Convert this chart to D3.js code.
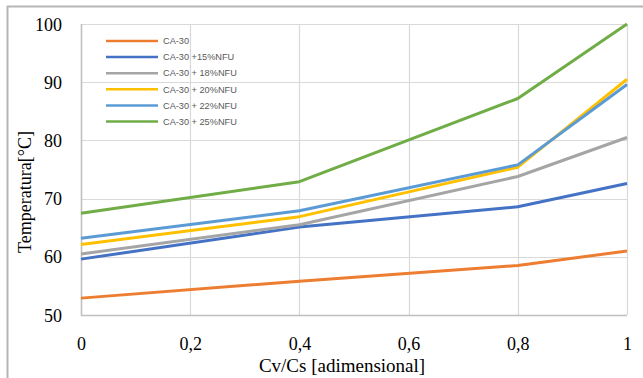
<!DOCTYPE html>
<html>
<head>
<meta charset="utf-8">
<script src="https://cdn.jsdelivr.net/npm/d3@7"></script>
<style>
  html, body { margin: 0; padding: 0; background: #fff; }
  svg { display: block; }
</style>
</head>
<body>
<svg id="chart" width="643" height="378"></svg>
<script>
// Cv/Cs ratio sampled along x
const ratios = [0, 0.4, 0.8, 1];

// Temperature (°C) for each mixture
const seriesNames = ["CA-30", "CA-30 +15%NFU", "CA-30 + 18%NFU", "CA-30 + 20%NFU", "CA-30 + 22%NFU", "CA-30 + 25%NFU"];
const tempCA30 = [52.9, 55.8, 58.5, 61.0];
const temp15 = [59.6, 65.1, 68.6, 72.6];
const temp18 = [60.5, 65.5, 73.8, 80.5];
const temp20 = [62.1, 66.9, 75.4, 90.5];
const temp22 = [63.2, 67.9, 75.8, 89.6];
const temp25 = [67.5, 72.9, 87.2, 100];
const seriesColors = ["#ED7D31", "#4472C4", "#A5A5A5", "#FFC000", "#5B9BD5", "#70AD47"];

const xTicks = [0, 0.2, 0.4, 0.6, 0.8, 1];
const xTickLabels = ["0", "0,2", "0,4", "0,6", "0,8", "1"];
const yTicks = [50, 60, 70, 80, 90, 100];

const allSeries = [tempCA30, temp15, temp18, temp20, temp22, temp25];

const svg = d3.select("#chart");
const W = 643, H = 378;
const plot = { left: 81, right: 627, top: 24, bottom: 315 };
const serif = "Liberation Serif, Times New Roman, serif";

// outer frame (top and left edges)
svg.append("line").attr("x1", 7).attr("x2", W).attr("y1", 6.5).attr("y2", 6.5)
  .attr("stroke", "#b5b5b5").attr("stroke-width", 2);
svg.append("line").attr("x1", 7.5).attr("x2", 7.5).attr("y1", 6).attr("y2", H)
  .attr("stroke", "#b5b5b5").attr("stroke-width", 2);

const x = d3.scaleLinear().domain([0, 1]).range([plot.left, plot.right]);
const y = d3.scaleLinear().domain([50, 100]).range([plot.bottom, plot.top]);

// gridlines
const grid = svg.append("g");
grid.selectAll("line.v").data(xTicks).join("line")
  .attr("x1", d => Math.round(x(d)) + 0.5).attr("x2", d => Math.round(x(d)) + 0.5)
  .attr("y1", plot.top).attr("y2", plot.bottom)
  .attr("stroke", "#d9d9d9").attr("stroke-width", 1.2);
grid.selectAll("line.h").data(yTicks).join("line")
  .attr("x1", plot.left).attr("x2", plot.right)
  .attr("y1", d => Math.round(y(d)) + 0.5).attr("y2", d => Math.round(y(d)) + 0.5)
  .attr("stroke", "#d9d9d9").attr("stroke-width", 1.2);

// axis lines
svg.append("line").attr("x1", plot.left + 0.5).attr("x2", plot.left + 0.5)
  .attr("y1", plot.top).attr("y2", plot.bottom + 1)
  .attr("stroke", "#bfbfbf").attr("stroke-width", 1.5);
svg.append("line").attr("x1", plot.left).attr("x2", plot.right)
  .attr("y1", plot.bottom + 0.5).attr("y2", plot.bottom + 0.5)
  .attr("stroke", "#bfbfbf").attr("stroke-width", 1.5);

// axes (labels only)
const xAxis = d3.axisBottom(x).tickValues(xTicks).tickFormat((d, i) => xTickLabels[i]).tickSize(0).tickPadding(0);
const gx = svg.append("g").attr("transform", `translate(0, ${plot.bottom})`).call(xAxis);
gx.select(".domain").remove();
gx.selectAll("text").attr("dy", null).attr("y", 35)
  .attr("font-family", serif).attr("font-size", 18).attr("fill", "#000");

const yAxis = d3.axisLeft(y).tickValues(yTicks).tickSize(0).tickPadding(0);
const gy = svg.append("g").attr("transform", `translate(${plot.left}, 0)`).call(yAxis);
gy.select(".domain").remove();
gy.selectAll("text").attr("x", -19).attr("dy", "0.34em")
  .attr("font-family", serif).attr("font-size", 18).attr("fill", "#000");

// axis titles
svg.append("text").attr("x", 342).attr("y", 372).attr("text-anchor", "middle")
  .attr("font-family", serif).attr("font-size", 19)
  .text("Cv/Cs [adimensional]");
svg.append("text").attr("transform", "translate(31, 192) rotate(-90)").attr("text-anchor", "middle")
  .attr("font-family", serif).attr("font-size", 18)
  .text("Temperatura[°C]");

// series lines
const line = d3.line().x((d, i) => x(ratios[i])).y(d => y(d));
svg.append("g").selectAll("path").data(allSeries).join("path")
  .attr("d", d => line(d))
  .attr("fill", "none")
  .attr("stroke", (d, i) => seriesColors[i])
  .attr("stroke-width", 3)
  .attr("stroke-linejoin", "round");

// legend
const legend = svg.append("g").attr("transform", "translate(106, 41)");
const rows = legend.selectAll("g").data(seriesNames).join("g")
  .attr("transform", (d, i) => `translate(0, ${i * 16.1})`);
rows.append("line").attr("x1", 0).attr("x2", 52).attr("y1", 0).attr("y2", 0)
  .attr("stroke", (d, i) => seriesColors[i]).attr("stroke-width", 2.5);
rows.append("text").attr("x", 57).attr("y", 0).attr("dy", "0.35em")
  .attr("font-family", "Liberation Sans, Arial, sans-serif").attr("font-size", 9.2)
  .attr("fill", "#595959").text(d => d);
</script>
</body>
</html>
